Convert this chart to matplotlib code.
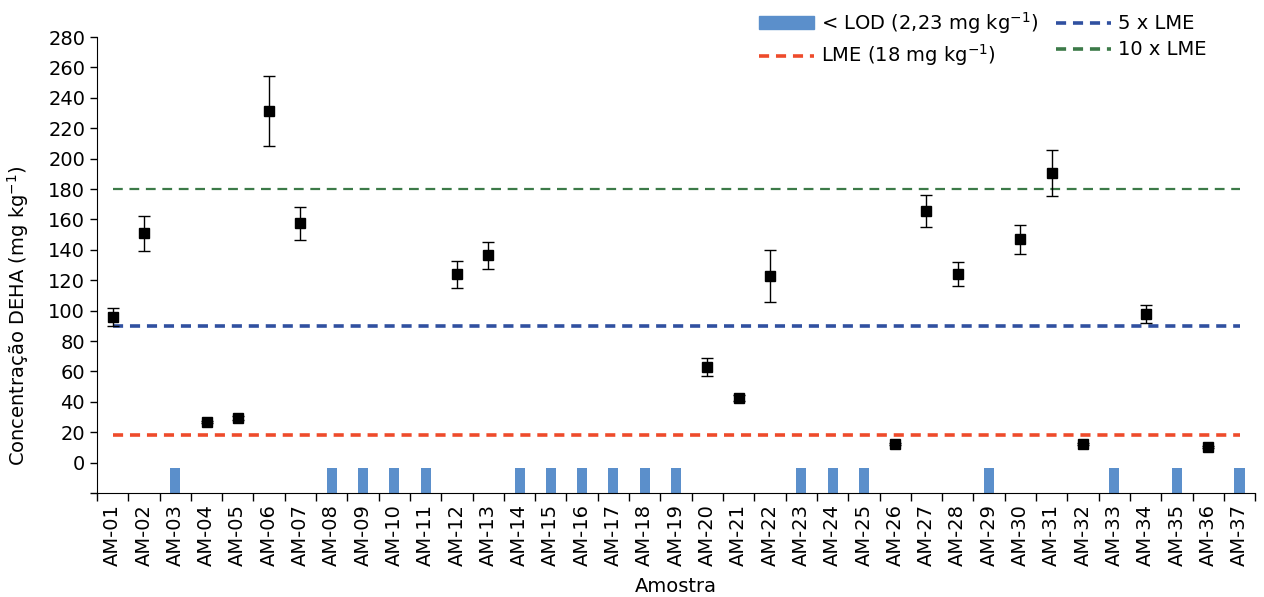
import matplotlib.pyplot as plt
import numpy as np
from matplotlib.patches import Patch
from matplotlib.lines import Line2D

plt.rcParams['font.family'] = ['DejaVu Sans']
plt.rcParams['mathtext.default'] = 'regular'

amostras = ["AM-%02d" % i for i in range(1, 38)]

# DEHA concentration (mg/kg), None = below LOD
conc = [96, 151, None, 26.7, 29.4, 231.5, 157.5, None, None, None,
        None, 124, 136.5, None, None, None, None, None, None, 63,
        42.5, 123, None, None, None, 12.3, 165.5, 124, None, 147,
        190.4, 12.3, None, 97.8, None, 10.3, None]
erro = [6, 11.6, 0, 0.5, 1, 23, 11, 0, 0, 0,
        0, 9, 9, 0, 0, 0, 0, 0, 0, 5.7,
        2, 17, 0, 0, 0, 0.5, 10.7, 8, 0, 9.6,
        15, 0.5, 0, 6, 0, 0.5, 0]

lod_bar = -3.3
y_min = -20
lme = 18

RED, BLUE, GREEN, BAR = '#EE4B2B', '#3050A0', '#3C7A48', '#5B8FCB'

x = np.arange(1, len(amostras) + 1)
has_val = np.array([c is not None for c in conc])
vals = np.array([c if c is not None else np.nan for c in conc], dtype=float)
errs = np.array(erro, dtype=float)

fig = plt.figure(figsize=(12.64, 5.97), dpi=100)
ax = fig.add_axes([0.0767, 0.174, 0.9163, 0.764])

# LOD bars start at bottom of axis
ax.bar(x[~has_val], lod_bar - y_min, bottom=y_min, width=0.32,
       color=BAR, zorder=2)

ax.plot([1, 37], [lme, lme], ls=(0, (2.8, 1.9)), color=RED, lw=2.6, zorder=3)
ax.plot([1, 37], [5 * lme, 5 * lme], ls=(0, (2.8, 1.9)), color=BLUE, lw=2.6, zorder=3)
ax.plot([1, 37], [10 * lme, 10 * lme], ls=(0, (4.4, 3.0)), color=GREEN, lw=1.6, zorder=3)

ax.errorbar(x[has_val], vals[has_val], yerr=errs[has_val], fmt='s',
            color='black', ms=6.5, elinewidth=1.0, capsize=4, capthick=1.0, zorder=4)

ax.set_xlim(0.5, 37.5)
ax.set_ylim(y_min, 280)
ax.set_yticks(np.arange(-20, 281, 20))
ax.set_yticklabels([''] + [str(v) for v in range(0, 281, 20)])
ax.set_xticks(x)
ax.set_xticklabels(amostras, rotation=90)
ax.set_xticks(np.arange(0.5, 38, 1), minor=True)
ax.tick_params(axis='x', which='major', length=0, labelsize=14, pad=8)
ax.tick_params(axis='x', which='minor', length=6, width=1)
ax.tick_params(axis='y', length=5, width=1, labelsize=14)

for s in ['top', 'right']:
    ax.spines[s].set_visible(False)

ax.set_ylabel('Concentração DEHA (mg kg$^{-1}$)', fontsize=14)
ax.yaxis.set_label_coords(-0.057, 0.388)
ax.set_xlabel('Amostra', fontsize=14, labelpad=8)

handles = [
    Patch(color=BAR, label='< LOD (2,23 mg kg$^{-1}$)'),
    Line2D([], [], ls=(0, (2.8, 1.9)), color=RED, lw=2.6, label='LME (18 mg kg$^{-1}$)'),
    Line2D([], [], ls=(0, (2.8, 1.9)), color=BLUE, lw=2.6, label='5 x LME'),
    Line2D([], [], ls=(0, (2.8, 1.9)), color=GREEN, lw=2.6, label='10 x LME'),
]
fig.legend(handles=handles, ncol=2, loc='upper left', bbox_to_anchor=(0.5867, 1.013),
           frameon=False, fontsize=14, handlelength=2.8, handleheight=0.6,
           columnspacing=0.9, labelspacing=0.35, handletextpad=0.4)

fig.savefig('out.png', dpi=100)
